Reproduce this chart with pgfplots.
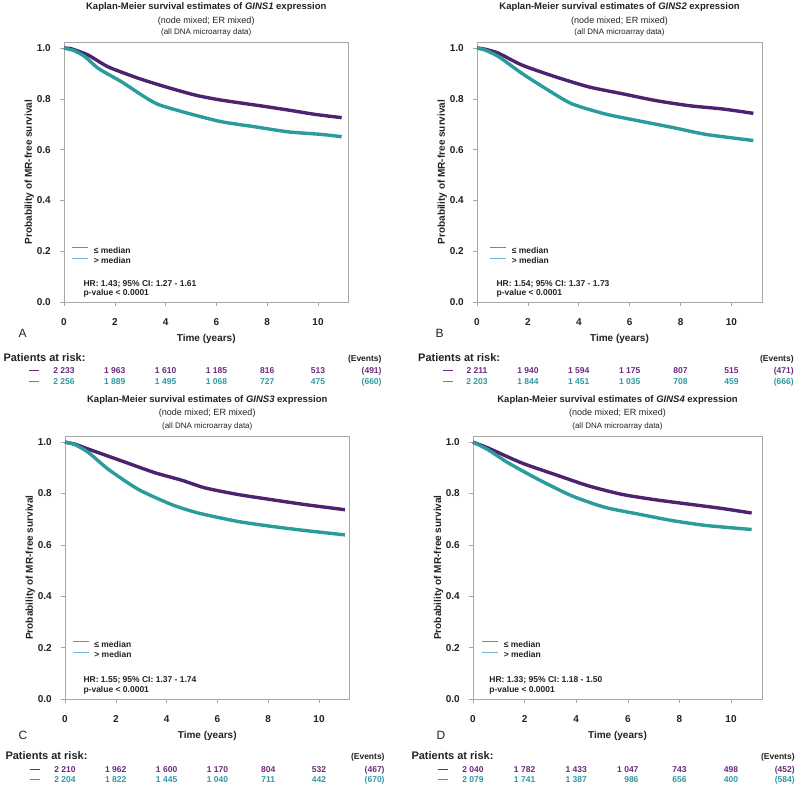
\documentclass[border=0pt]{standalone}
\usepackage{pgfplots}
\pgfplotsset{compat=1.18}
\usepackage{fontspec}
\setmainfont{Liberation Sans}
\definecolor{kmpur}{HTML}{4D2370}
\definecolor{kmteal}{HTML}{2B9C9C}
\definecolor{numpur}{HTML}{6A2C7E}
\definecolor{numteal}{HTML}{2F9AA0}
\definecolor{legpur}{HTML}{8A78B8}
\definecolor{legteal}{HTML}{6CB8D6}
\definecolor{frm}{HTML}{A8A8A8}
\definecolor{txt}{HTML}{222222}
\newcommand{\fs}[1]{\fontsize{#1}{#1}\selectfont}

\pgfplotsset{km/.style={
  scale only axis, anchor=south west, clip=false,
  xmin=0, xmax=11.2, ymin=0, ymax=1.024,
  xtick={0,2,4,6,8,10}, ytick={0,0.2,0.4,0.6,0.8,1.0},
  /pgf/number format/assume math mode=true,
  tick pos=left, tick align=outside, major tick length=4pt,
  axis line style={frm, line width=0.6pt},
  tick style={frm, line width=0.6pt},
  ticklabel style={font=\bfseries\fs{10}, text=txt},
  yticklabel style={/pgf/number format/fixed, /pgf/number format/fixed zerofill,
     /pgf/number format/precision=1, anchor=east, inner sep=0pt, xshift=-9pt},
  xticklabel style={anchor=base, inner sep=0pt, yshift=-19pt},
  label style={font=\bfseries\fs{10}, text=txt},
  xlabel={Time (years)}, ylabel={Probability of MR-free survival},
  xlabel style={at={(axis description cs:0.5,0)}, anchor=base, yshift=-39pt},
  legend image code/.code={\draw[#1] (0pt,3pt) -- (16pt,3pt);},
  legend cell align=left,
  legend style={draw=none, fill=none, inner sep=0pt, outer sep=0pt,
     row sep=2.5pt, column sep=5pt, font=\bfseries\fs{8.5}, text=txt,
     nodes={inner sep=0pt}},
  curve/.style={line width=3.4pt, smooth, tension=0.4, forget plot},
}}
\tikzset{rk/.style={anchor=base, font=\bfseries\fs{8.5}},
  ttl/.style={anchor=base, font=\bfseries\fs{9.5}, text=txt},
  sub/.style={anchor=base, font=\fs{9}, text=txt},
  subb/.style={anchor=base, font=\fs{8}, text=txt},
  hr/.style={anchor=base west, font=\bfseries\fs{8.5}, text=txt}}

% #1 color, #2 yshift, #3-#8 numbers, #9 events
\newcommand{\riskrow}[9]{%
  \node[rk,text=#1,yshift=#2] at (axis cs:0,0) {#3};
  \node[rk,text=#1,yshift=#2] at (axis cs:2,0) {#4};
  \node[rk,text=#1,yshift=#2] at (axis cs:4,0) {#5};
  \node[rk,text=#1,yshift=#2] at (axis cs:6,0) {#6};
  \node[rk,text=#1,yshift=#2] at (axis cs:8,0) {#7};
  \node[rk,text=#1,yshift=#2] at (axis cs:10,0) {#8};
  \node[rk,anchor=base east,text=#1,yshift=#2] at (axis cs:\evx,0) {#9};
}

\begin{document}
\begin{tikzpicture}
\path[use as bounding box] (0,0) rectangle (800pt,796pt);

% ---------------- Panel A ----------------
\begin{axis}[km, at={(64pt,494pt)}, width=284.5pt, height=260pt,
  ylabel style={at={(axis description cs:-0.1125,0.5)}, anchor=base},
  legend style={at={(axis cs:0.315,0.2165)}, anchor=north west}]
\addplot[curve, kmpur] coordinates {(0,1.0) (0.3,0.997) (0.96,0.972) (1.74,0.926) (2.93,0.881) (3.98,0.848) (5.16,0.815) (6.2,0.795) (7.78,0.772) (8.83,0.756) (9.88,0.739) (10.93,0.726)};
\addplot[curve, kmteal] coordinates {(0,1.0) (0.4,0.99) (0.83,0.966) (1.35,0.92) (2.27,0.867) (3.06,0.815) (3.71,0.778) (4.89,0.743) (6.2,0.71) (7.52,0.69) (8.83,0.67) (10.14,0.66) (10.93,0.651)};
\addlegendimage{legpur, line width=0.8pt}\addlegendentry{≤ median}
\addlegendimage{legteal, line width=0.8pt}\addlegendentry{> median}
\node[hr] at (axis cs:0.63,0.06) {HR: 1.43; 95\% CI: 1.27 - 1.61};
\node[hr] at (axis cs:0.63,0.024) {p-value < 0.0001};
\node[ttl, yshift=32pt] at (axis description cs:0.5,1) {Kaplan-Meier survival estimates of \textit{GINS1} expression};
\node[sub, yshift=18.5pt] at (axis description cs:0.5,1) {(node mixed; ER mixed)};
\node[subb, yshift=7pt] at (axis description cs:0.5,1) {(all DNA microarray data)};
\node[anchor=base west, font=\fs{12}, text=txt, xshift=-49pt, yshift=-35pt] at (axis description cs:0,0) {A};
\node[anchor=base west, font=\bfseries\fs{11}, text=txt, yshift=-59pt] at (axis cs:-2.52,0) {Patients at risk:};
\def\evx{12.64}
\node[rk,anchor=base east,text=txt,yshift=-59pt] at (axis cs:\evx,0) {(Events)};
\riskrow{numpur}{-71.5pt}{2 233}{1 963}{1 610}{1 185}{816}{513}{(491)}
\riskrow{numteal}{-82pt}{2 256}{1 889}{1 495}{1 068}{727}{475}{(660)}
\draw[numpur, line width=0.9pt] ([yshift=-68.5pt]axis cs:-1.38,0) -- ++(10pt,0);
\draw[numteal, line width=0.9pt] ([yshift=-79pt]axis cs:-1.38,0) -- ++(10pt,0);
\end{axis}

% ---------------- Panel B ----------------
\begin{axis}[km, at={(477pt,494pt)}, width=285pt, height=260pt,
  ylabel style={at={(axis description cs:-0.1123,0.5)}, anchor=base},
  legend style={at={(axis cs:0.51,0.2165)}, anchor=north west}]
\addplot[curve, kmpur] coordinates {(0,1.0) (0.3,0.996) (0.84,0.98) (1.77,0.933) (3.08,0.887) (4.4,0.847) (5.72,0.82) (7.04,0.793) (8.35,0.773) (9.67,0.76) (10.86,0.743)};
\addplot[curve, kmteal] coordinates {(0,1.0) (0.3,0.993) (0.84,0.967) (1.77,0.90) (2.82,0.833) (3.74,0.78) (5.06,0.74) (6.38,0.713) (7.7,0.687) (9.0,0.66) (10.86,0.636)};
\addlegendimage{legpur, line width=0.8pt}\addlegendentry{≤ median}
\addlegendimage{legteal, line width=0.8pt}\addlegendentry{> median}
\node[hr] at (axis cs:0.63,0.06) {HR: 1.54; 95\% CI: 1.37 - 1.73};
\node[hr] at (axis cs:0.63,0.024) {p-value < 0.0001};
\node[ttl, yshift=32pt] at (axis description cs:0.5,1) {Kaplan-Meier survival estimates of \textit{GINS2} expression};
\node[sub, yshift=18.5pt] at (axis description cs:0.5,1) {(node mixed; ER mixed)};
\node[subb, yshift=7pt] at (axis description cs:0.5,1) {(all DNA microarray data)};
\node[anchor=base west, font=\fs{12}, text=txt, xshift=-45pt, yshift=-35pt] at (axis description cs:0,0) {B};
\node[anchor=base west, font=\bfseries\fs{11}, text=txt, yshift=-59pt] at (axis cs:-2.45,0) {Patients at risk:};
\def\evx{12.58}
\node[rk,anchor=base east,text=txt,yshift=-59pt] at (axis cs:\evx,0) {(Events)};
\riskrow{numpur}{-71.5pt}{2 211}{1 940}{1 594}{1 175}{807}{515}{(471)}
\riskrow{numteal}{-82pt}{2 203}{1 844}{1 451}{1 035}{708}{459}{(666)}
\draw[numpur, line width=0.9pt] ([yshift=-68.5pt]axis cs:-1.35,0) -- ++(10pt,0);
\draw[numteal, line width=0.9pt] ([yshift=-79pt]axis cs:-1.35,0) -- ++(10pt,0);
\end{axis}

% ---------------- Panel C ----------------
\begin{axis}[km, at={(65pt,97pt)}, width=284.5pt, height=263pt,
  ylabel style={at={(axis description cs:-0.1125,0.5)}, anchor=base},
  legend style={at={(axis cs:0.3,0.2257)}, anchor=north west}]
\addplot[curve, kmpur] coordinates {(0,1.0) (0.4,0.992) (0.92,0.973) (2.23,0.927) (3.54,0.881) (4.59,0.852) (5.51,0.822) (6.82,0.796) (8.14,0.776) (9.45,0.757) (11.02,0.737)};
\addplot[curve, kmteal] coordinates {(0,1.0) (0.4,0.99) (0.92,0.96) (1.71,0.894) (2.89,0.816) (4.2,0.757) (5.25,0.724) (6.82,0.691) (8.14,0.672) (9.45,0.656) (11.02,0.639)};
\addlegendimage{legpur, line width=0.8pt}\addlegendentry{≤ median}
\addlegendimage{legteal, line width=0.8pt}\addlegendentry{> median}
\node[hr] at (axis cs:0.59,0.066) {HR: 1.55; 95\% CI: 1.37 - 1.74};
\node[hr] at (axis cs:0.59,0.027) {p-value < 0.0001};
\node[ttl, yshift=34pt] at (axis description cs:0.5,1) {Kaplan-Meier survival estimates of \textit{GINS3} expression};
\node[sub, yshift=21pt] at (axis description cs:0.5,1) {(node mixed; ER mixed)};
\node[subb, yshift=8pt] at (axis description cs:0.5,1) {(all DNA microarray data)};
\node[anchor=base west, font=\fs{12}, text=txt, xshift=-50pt, yshift=-40pt] at (axis description cs:0,0) {C};
\node[anchor=base west, font=\bfseries\fs{11}, text=txt, yshift=-60.5pt] at (axis cs:-2.48,0) {Patients at risk:};
\def\evx{12.72}
\node[rk,anchor=base east,text=txt,yshift=-60.5pt] at (axis cs:\evx,0) {(Events)};
\riskrow{numpur}{-73pt}{2 210}{1 962}{1 600}{1 170}{804}{532}{(467)}
\riskrow{numteal}{-83pt}{2 204}{1 822}{1 445}{1 040}{711}{442}{(670)}
\draw[numpur, line width=0.9pt] ([yshift=-70pt]axis cs:-1.38,0) -- ++(10pt,0);
\draw[numteal, line width=0.9pt] ([yshift=-80pt]axis cs:-1.38,0) -- ++(10pt,0);
\end{axis}

% ---------------- Panel D ----------------
\begin{axis}[km, at={(473pt,97pt)}, width=289pt, height=263pt,
  ylabel style={at={(axis description cs:-0.1107,0.5)}, anchor=base},
  legend style={at={(axis cs:0.35,0.2257)}, anchor=north west}]
\addplot[curve, kmpur] coordinates {(0,1.0) (0.59,0.977) (1.89,0.919) (3.18,0.874) (4.47,0.83) (5.76,0.797) (7.05,0.776) (8.34,0.759) (9.64,0.742) (10.8,0.724)};
\addplot[curve, kmteal] coordinates {(0,1.0) (0.59,0.97) (1.37,0.919) (2.53,0.855) (3.83,0.791) (5.12,0.746) (6.41,0.72) (7.7,0.695) (9.0,0.676) (10.8,0.66)};
\addlegendimage{legpur, line width=0.8pt}\addlegendentry{≤ median}
\addlegendimage{legteal, line width=0.8pt}\addlegendentry{> median}
\node[hr] at (axis cs:0.5,0.066) {HR: 1.33; 95\% CI: 1.18 - 1.50};
\node[hr] at (axis cs:0.5,0.027) {p-value < 0.0001};
\node[ttl, yshift=34pt] at (axis description cs:0.5,1) {Kaplan-Meier survival estimates of \textit{GINS4} expression};
\node[sub, yshift=21pt] at (axis description cs:0.5,1) {(node mixed; ER mixed)};
\node[subb, yshift=8pt] at (axis description cs:0.5,1) {(all DNA microarray data)};
\node[anchor=base west, font=\fs{12}, text=txt, xshift=-40pt, yshift=-40pt] at (axis description cs:0,0) {D};
\node[anchor=base west, font=\bfseries\fs{11}, text=txt, yshift=-60.5pt] at (axis cs:-2.52,0) {Patients at risk:};
\def\evx{12.6}
\node[rk,anchor=base east,text=txt,yshift=-60.5pt] at (axis cs:\evx,0) {(Events)};
\riskrow{numpur}{-73pt}{2 040}{1 782}{1 433}{1 047}{743}{498}{(452)}
\riskrow{numteal}{-83pt}{2 079}{1 741}{1 387}{\phantom{1 }986}{656}{400}{(584)}
\draw[numpur, line width=0.9pt] ([yshift=-70pt]axis cs:-1.36,0) -- ++(10pt,0);
\draw[numteal, line width=0.9pt] ([yshift=-80pt]axis cs:-1.36,0) -- ++(10pt,0);
\end{axis}
\end{tikzpicture}
\end{document}
